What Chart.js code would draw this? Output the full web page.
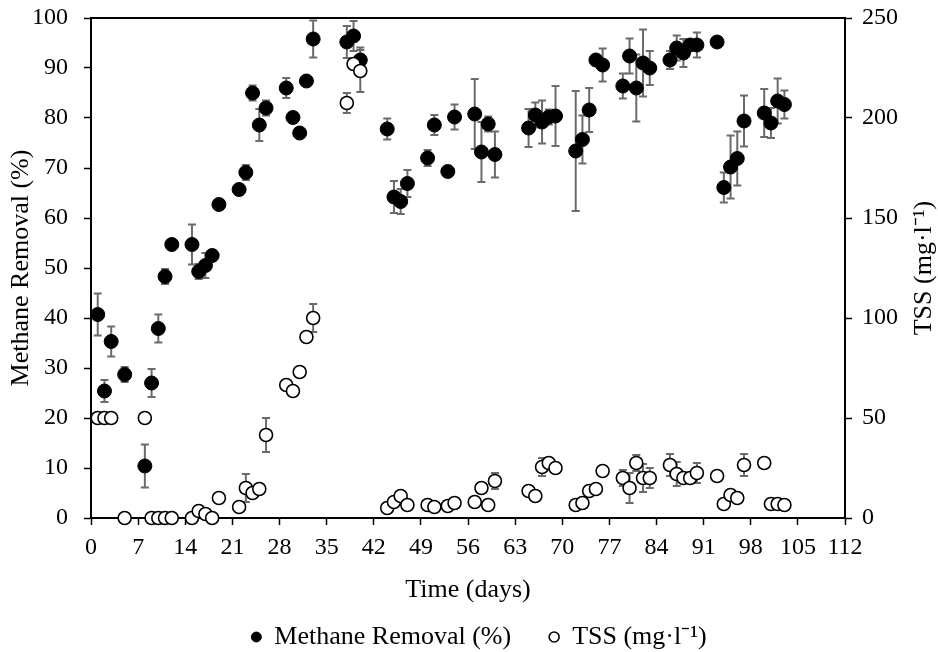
<!DOCTYPE html>
<html>
<head>
<meta charset="utf-8">
<title>Methane removal and TSS</title>
<script src="https://cdn.jsdelivr.net/npm/chart.js@4.4.1/dist/chart.umd.min.js"></script>
<style>
  html, body {
    margin: 0;
    padding: 0;
    background: #ffffff;
  }

  #chartBox {
    width: 938px;
    height: 652px;
  }
</style>
</head>
<body>
<div id="chartBox">
  <canvas id="removalChart"></canvas>
</div>

<script>
const days = [
  1, 2, 3, 5, 8, 9, 10, 11, 12, 15, 16, 17, 18, 19, 22, 23, 24, 25, 26,
  29, 30, 31, 32, 33, 38, 39, 40, 44, 45, 46, 47, 50, 51, 53, 54, 57, 58,
  59, 60, 65, 66, 67, 68, 69, 72, 73, 74, 75, 76, 79, 80, 81, 82, 83, 86,
  87, 88, 89, 90, 93, 94, 95, 96, 97, 100, 101, 102, 103
];

const methaneRemoval = [
  40.7, 25.4, 35.3, 28.7, 10.4, 27.0, 37.9, 48.3, 54.7, 54.7, 49.3, 50.5,
  52.5, 62.7, 65.7, 69.1, 85.0, 78.6, 82.0, 86.0, 80.1, 77.0, 87.4, 95.8,
  95.2, 96.4, 91.6, 77.8, 64.2, 63.3, 66.9, 72.0, 78.6, 69.3, 80.2, 80.8,
  73.2, 78.8, 72.7, 78.0, 80.6, 79.2, 80.2, 80.4, 73.4, 75.7, 81.6, 91.6,
  90.6, 86.4, 92.4, 86.0, 91.0, 90.0, 91.6, 94.0, 93.0, 94.6, 94.6, 95.2,
  66.1, 70.2, 71.9, 79.4, 81.0, 79.0, 83.4, 82.7
];

const methaneError = [
  4.2, 2.2, 3.0, 1.5, 4.3, 2.8, 2.8, 1.5, 0, 4.0, 1.5, 2.5,
  1.0, 0, 1.0, 1.5, 1.5, 3.2, 1.5, 2.0, 1.0, 0.5, 1.0, 3.7,
  3.2, 3.0, 2.5, 2.1, 3.2, 2.5, 2.7, 1.6, 2.0, 0, 2.5, 7.0,
  6.0, 1.5, 4.6, 3.8, 2.5, 4.3, 1.5, 6.0, 12.0, 4.8, 4.4, 1.0,
  3.3, 2.5, 3.5, 6.7, 6.7, 3.4, 1.8, 2.5, 2.8, 1.0, 2.5, 0,
  3.0, 6.3, 5.4, 5.1, 4.8, 3.0, 4.5, 2.8
];

const tssValues = [
  50, 50, 50, 0, 50, 0, 0, 0, 0, 0, 3.5, 2, 0, 10, 5.5, 15, 12.5, 14.5, 41.5,
  66.5, 63.5, 73, 90.5, 100, 207.5, 227, 223.5, 5, 8, 11, 6.5, 6.5, 5.5, 6,
  7.5, 8, 15, 6.5, 18.5, 13.5, 11, 25.5, 27.5, 25, 6.5, 7.5, 13.5, 14.5,
  23.5, 20, 15, 27.5, 20, 20, 26.5, 22, 20, 20, 22.5, 21, 7, 11.5, 10,
  26.5, 27.5, 7, 7, 6.5
];

const tssError = [
  0, 0, 0, 0, 0, 0, 0, 0, 0, 0, 0, 0, 0, 0, 0, 7, 0, 0, 8.5,
  2, 0, 0, 0, 7, 5, 0, 10.5, 0, 0, 0, 0, 0, 0, 0,
  0, 0, 0, 0, 4, 0, 0, 4.5, 0, 0, 0, 0, 0, 0,
  0, 4, 7.5, 4, 7, 5, 5.5, 6, 0, 0, 5, 0, 0, 0, 0,
  5.5, 0, 0, 0, 0
];

const seriesLabels = ["Methane Removal (%)", "TSS (mg\u00b7l\u207b\u00b9)"];
const axisTitles = {
  x: "Time (days)",
  left: "Methane Removal (%)",
  right: "TSS (mg\u00b7l\u207b\u00b9)"
};

const fontFamily = "'Liberation Serif', 'Times New Roman', serif";

function toPoints(values) {
  return days.map((day, index) => ({ x: day, y: values[index] }));
}

// error bars sit behind the markers
const errorBarPlugin = {
  id: "errorBars",
  beforeDatasetsDraw(chart) {
    const ctx = chart.ctx;
    const xScale = chart.scales.x;

    ctx.save();
    ctx.strokeStyle = "#6b6b6b";
    ctx.lineWidth = 2;

    chart.data.datasets.forEach((dataset) => {
      const yScale = chart.scales[dataset.yAxisID];

      dataset.data.forEach((point, index) => {
        const error = dataset.errors[index];

        if (!error) {
          return;
        }

        const px = xScale.getPixelForValue(point.x);
        const top = yScale.getPixelForValue(point.y + error);
        const bottom = yScale.getPixelForValue(point.y - error);

        ctx.beginPath();
        ctx.moveTo(px, top);
        ctx.lineTo(px, bottom);
        ctx.moveTo(px - 4, top);
        ctx.lineTo(px + 4, top);
        ctx.moveTo(px - 4, bottom);
        ctx.lineTo(px + 4, bottom);
        ctx.stroke();
      });
    });

    ctx.restore();
  }
};

// the legend in the original sits a little right of centre
const legendShiftPlugin = {
  id: "legendShift",
  afterLayout(chart) {
    if (chart.legend) {
      chart.legend.left += 20;
    }
  }
};

// top frame line and the right-hand title (reads bottom to top)
const framePlugin = {
  id: "frame",
  afterDraw(chart) {
    const ctx = chart.ctx;
    const area = chart.chartArea;

    ctx.save();
    ctx.strokeStyle = "#000000";
    ctx.lineWidth = 2;
    ctx.beginPath();
    ctx.moveTo(area.left - 1, area.top);
    ctx.lineTo(area.right + 1, area.top);
    ctx.stroke();

    ctx.fillStyle = "#000000";
    ctx.font = "26px " + fontFamily;
    ctx.textAlign = "center";
    ctx.textBaseline = "middle";
    ctx.translate(924, (area.top + area.bottom) / 2);
    ctx.rotate(-Math.PI / 2);
    ctx.fillText(axisTitles.right, 0, 0);
    ctx.restore();
  }
};

const tickFont = { family: fontFamily, size: 24 };
const titleFont = { family: fontFamily, size: 26 };

const outerTicks = {
  display: true,
  drawOnChartArea: false,
  drawTicks: true,
  tickLength: 7,
  tickWidth: 1.5,
  tickColor: "#000000"
};

function fixSideWidth(width) {
  return (scale) => {
    scale.width = width;
    scale.paddingTop = 0;
    scale.paddingBottom = 0;
  };
}

new Chart(document.getElementById("removalChart"), {
  type: "scatter",
  data: {
    datasets: [
      {
        label: seriesLabels[0],
        data: toPoints(methaneRemoval),
        errors: methaneError,
        yAxisID: "y",
        order: 1,
        pointRadius: 7,
        pointHoverRadius: 7,
        backgroundColor: "#000000",
        borderColor: "#000000",
        borderWidth: 1,
        clip: false
      },
      {
        label: seriesLabels[1],
        data: toPoints(tssValues),
        errors: tssError,
        yAxisID: "y1",
        order: 0,
        pointRadius: 6.5,
        pointHoverRadius: 6.5,
        backgroundColor: "#ffffff",
        borderColor: "#000000",
        borderWidth: 1.6,
        clip: false
      }
    ]
  },
  options: {
    responsive: true,
    maintainAspectRatio: false,
    animation: false,
    layout: {
      padding: { top: 18, right: 0, bottom: -8, left: 0 }
    },
    plugins: {
      tooltip: { enabled: false },
      legend: {
        position: "bottom",
        labels: {
          usePointStyle: true,
          pointStyleWidth: 10,
          boxHeight: 7,
          padding: 12,
          color: "#000000",
          font: titleFont,
          sort: (first, second) => first.datasetIndex - second.datasetIndex,
          generateLabels(chart) {
            const items =
              Chart.defaults.plugins.legend.labels.generateLabels(chart);
            // wider gap after the methane entry
            items.forEach((item) => {
              if (item.datasetIndex === 0) {
                item.text += "\u2003";
              }
            });
            return items;
          }
        }
      }
    },
    scales: {
      x: {
        type: "linear",
        min: 0,
        max: 112,
        afterFit(scale) {
          scale.height = 94;
        },
        ticks: {
          stepSize: 7,
          padding: 8,
          maxRotation: 0,
          color: "#000000",
          font: tickFont
        },
        grid: outerTicks,
        border: { display: true, color: "#000000", width: 2 },
        title: {
          display: true,
          text: axisTitles.x,
          color: "#000000",
          padding: { top: 0, bottom: 6 },
          font: titleFont
        }
      },
      y: {
        position: "left",
        min: 0,
        max: 100,
        afterFit: fixSideWidth(91),
        ticks: {
          stepSize: 10,
          padding: 16,
          color: "#000000",
          font: tickFont
        },
        grid: outerTicks,
        border: { display: true, color: "#000000", width: 2 },
        title: {
          display: true,
          text: axisTitles.left,
          color: "#000000",
          padding: { top: 6, bottom: 0 },
          font: titleFont
        }
      },
      y1: {
        position: "right",
        min: 0,
        max: 250,
        afterFit: fixSideWidth(93),
        ticks: {
          stepSize: 50,
          padding: 10,
          color: "#000000",
          font: tickFont
        },
        grid: outerTicks,
        border: { display: true, color: "#000000", width: 2 }
      }
    }
  },
  plugins: [errorBarPlugin, legendShiftPlugin, framePlugin]
});
</script>
</body>
</html>
